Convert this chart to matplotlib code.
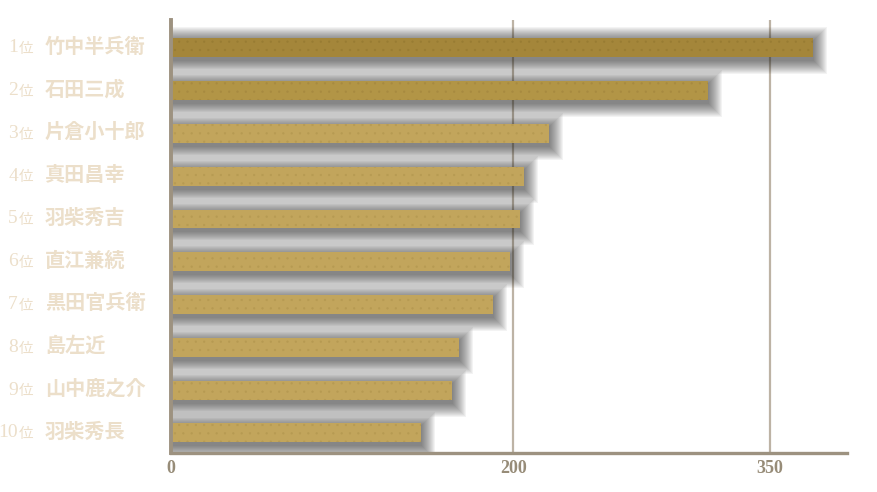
import numpy as np
import matplotlib
matplotlib.use("Agg")
import matplotlib.pyplot as plt
from matplotlib.transforms import blended_transform_factory

# data
ranks = ["1", "2", "3", "4", "5", "6", "7", "8", "9", "10"]
names = ["竹中半兵衛", "石田三成", "片倉小十郎", "真田昌幸", "羽柴秀吉",
         "直江兼続", "黒田官兵衛", "島左近", "山中鹿之介", "羽柴秀長"]
votes = [375, 314, 221, 206, 204, 198, 188, 168, 164, 146]
ticks = [0, 200, 350]
bar_colors = ["#a4863a", "#b29546", "#c2a55c", "#c2a55c", "#c2a55c",
              "#c2a55c", "#c2a55c", "#c2a55c", "#c2a55c", "#c2a55c"]
speck_colors = ["#987c33", "#a78a40", "#b69a52", "#b69a52", "#b69a52",
                "#b69a52", "#b69a52", "#b69a52", "#b69a52", "#b69a52"]

plt.rcParams['hatch.linewidth'] = 0.4

fig = plt.figure(figsize=(8.78, 4.92), dpi=100)
ax = fig.add_axes([171/878, 1-453/492, 676/878, 433/492])

y = np.arange(len(names))
vals = np.array(votes, dtype=float)
h = 0.44

# grid lines behind everything
for t in ticks[1:]:
    ax.axvline(t, color="#bdb3a5", lw=1.6, zorder=0)

# soft drop shadow: stacked translucent bars
px_x = 395 / 676
px_y = 1 / 42.8
for k in range(1, 15):
    ex = k * 1.0 * px_x
    ey = k * 1.0 * px_y
    ax.barh(y + 3 * px_y, vals + 2 * ex, height=h + 2 * ey, left=-ex,
            color="#202020", alpha=0.05, lw=0, zorder=1)

# the bars
for i in range(len(vals)):
    ax.barh(y[i], vals[i], height=h, color=bar_colors[i],
            edgecolor=speck_colors[i], lw=0, hatch="..", zorder=3)

ax.set_xlim(0, 395)
ax.set_ylim(9.47, -0.65)

for s in ["top", "right"]:
    ax.spines[s].set_visible(False)
ax.spines["left"].set_linewidth(2.8)
ax.spines["left"].set_color("#9d9280")
ax.spines["left"].set_zorder(5)
ax.spines["bottom"].set_linewidth(2.4)
ax.spines["bottom"].set_color("#9d9280")

ax.set_yticks([])
ax.set_xticks(ticks)
ax.set_xticklabels([str(t) for t in ticks], fontfamily="Liberation Serif",
                   fontweight="bold", fontsize=13, color="#978c78")
ax.tick_params(axis="x", length=0, pad=5)

# rank + name labels on the left
tr = blended_transform_factory(fig.transFigure, ax.transData)
label_color = "#ecdfca"
for i in range(len(names)):
    ax.text(18/878, i + 0.0, ranks[i], transform=tr, ha="right", va="center",
            fontfamily="Liberation Serif", fontsize=14, color=label_color)
    ax.text(33/878, i + 0.03, "位", transform=tr, ha="right", va="center",
            fontfamily="Noto Sans CJK JP", fontsize=10.5, color=label_color)
    ax.text(45/878, i - 0.04, names[i], transform=tr, ha="left", va="center",
            fontfamily="Noto Sans CJK JP", fontweight="bold", fontsize=14.5,
            color=label_color)

fig.savefig("out.png", dpi=100)
